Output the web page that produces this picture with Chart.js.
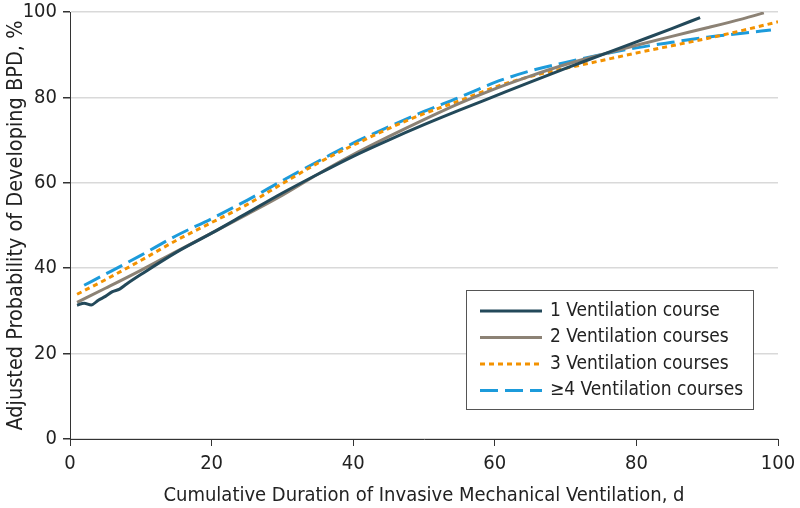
<!DOCTYPE html>
<html>
<head>
<meta charset="utf-8">
<script src="https://cdn.jsdelivr.net/npm/chart.js@4/dist/chart.umd.min.js"></script>
<style>
  html, body { margin: 0; padding: 0; background: #fff; }
  #wrap { width: 800px; height: 508px; position: relative; }
</style>
</head>
<body>
<div id="wrap"><canvas id="c" width="800" height="508"></canvas></div>
<script>
// Data
const seriesLabels = ["1 Ventilation course", "2 Ventilation courses", "3 Ventilation courses", "\u22654 Ventilation courses"];

const days1 = [1, 2, 3, 4, 5, 6, 7, 8, 10, 15, 20, 25, 30, 35, 40, 45, 50, 55, 60, 65, 70, 75, 80, 85, 89];
const prob1 = [31.3, 31.8, 31.4, 32.5, 33.4, 34.5, 35.1, 36.3, 38.5, 43.7, 48.2, 52.9, 57.6, 62.0, 66.2, 70.0, 73.6, 77.0, 80.3, 83.6, 86.8, 89.9, 93.0, 96.1, 98.7];

const days2 = [1, 5, 10, 15, 20, 25, 30, 35, 40, 45, 50, 55, 60, 65, 70, 75, 80, 85, 90, 95, 98];
const prob2 = [32.0, 35.3, 39.5, 43.9, 48.2, 52.6, 57.1, 62.0, 66.6, 70.8, 74.8, 78.6, 82.0, 85.0, 87.7, 90.0, 92.2, 94.3, 96.3, 98.4, 99.8];

const days3 = [1, 5, 10, 15, 20, 25, 30, 35, 40, 45, 50, 55, 60, 65, 70, 75, 80, 85, 90, 95, 100];
const prob3 = [33.9, 37.3, 41.8, 46.5, 50.7, 54.9, 59.8, 64.6, 68.8, 72.7, 76.2, 79.2, 82.4, 84.9, 86.8, 88.6, 90.4, 92.1, 93.8, 95.7, 97.7];

const days4 = [2, 5, 10, 15, 20, 25, 30, 35, 40, 45, 50, 55, 60, 65, 70, 75, 80, 85, 90, 95, 99];
const prob4 = [36.0, 38.6, 43.0, 47.6, 51.6, 55.9, 60.5, 65.0, 69.3, 73.1, 76.7, 80.0, 83.5, 86.2, 88.2, 90.0, 91.6, 92.9, 94.1, 95.0, 95.8];

const xTicks = [0, 20, 40, 60, 80, 100];
const yTicks = [0, 20, 40, 60, 80, 100];

const xTitle = "Cumulative Duration of Invasive Mechanical Ventilation, d";
const yTitle = "Adjusted Probability of Developing BPD, %";

const FONT = "'Liberation Sans Narrow', 'DejaVu Sans Condensed', 'Open Sans', sans-serif";
const TXT = "#222222";

function pts(xs, ys) { return xs.map((x, i) => ({ x: x, y: ys[i] })); }

const colors = ["#23495a", "#8c8275", "#f39200", "#1c9bdb"];
const dashes = [[], [], [5, 4], [18, 7]];
const dayArrays = [days1, days2, days3, days4];
const probArrays = [prob1, prob2, prob3, prob4];

const datasets = seriesLabels.map((lab, i) => ({
  label: lab,
  data: pts(dayArrays[i], probArrays[i]),
  borderColor: colors[i],
  backgroundColor: colors[i],
  borderWidth: 3,
  borderDash: dashes[i],
  pointRadius: 0,
  cubicInterpolationMode: 'monotone',
  fill: false,
  order: i + 1
}));

const legendPlugin = {
  id: 'boxLegend',
  afterDraw(chart) {
    const ctx = chart.ctx;
    const ca = chart.chartArea;
    const x0 = ca.left + 396, y0 = ca.top + 278, w = 287, h = 119;
    ctx.save();
    ctx.fillStyle = "#ffffff";
    ctx.fillRect(x0, y0, w, h);
    ctx.strokeStyle = "#555555";
    ctx.lineWidth = 1;
    ctx.strokeRect(x0 + 0.5, y0 + 0.5, w, h);
    ctx.font = "19px " + FONT;
    ctx.textBaseline = "middle";
    ctx.fillStyle = TXT;
    chart.data.datasets.forEach((ds, i) => {
      const yy = y0 + 21 + i * 26.5;
      ctx.beginPath();
      ctx.setLineDash(ds.borderDash || []);
      ctx.strokeStyle = ds.borderColor;
      ctx.lineWidth = 3;
      ctx.moveTo(x0 + 14, yy);
      ctx.lineTo(x0 + 76, yy);
      ctx.stroke();
      ctx.setLineDash([]);
      ctx.fillText(ds.label, x0 + 84, yy);
    });
    ctx.restore();
  }
};

new Chart(document.getElementById('c'), {
  type: 'line',
  data: { datasets: datasets },
  plugins: [legendPlugin],
  options: {
    responsive: false,
    animation: false,
    layout: { padding: { top: 12, right: 22, left: 0, bottom: 0 } },
    plugins: { legend: { display: false }, tooltip: { enabled: false } },
    scales: {
      x: {
        type: 'linear',
        min: 0, max: 100,
        afterBuildTicks(scale) { scale.ticks = xTicks.map(v => ({ value: v })); },
        afterFit(scale) { scale.height = 69; scale.paddingLeft = 0; scale.paddingRight = 0; },
        grid: { display: true, drawOnChartArea: false, drawTicks: true, tickLength: 7, tickColor: "#333333" },
        border: { display: true, color: "#333333", width: 1 },
        ticks: { color: TXT, font: { family: FONT, size: 20 }, padding: 6, maxRotation: 0 },
        title: { display: true, text: xTitle, color: TXT, font: { family: FONT, size: 20 }, padding: { top: 4, bottom: 0 } }
      },
      y: {
        type: 'linear',
        min: 0, max: 100,
        afterBuildTicks(scale) { scale.ticks = yTicks.map(v => ({ value: v })); },
        afterFit(scale) { scale.width = 70; scale.paddingTop = 0; scale.paddingBottom = 0; },
        grid: { display: true, color: "#d9d9d9", lineWidth: 1.5, drawTicks: true, tickLength: 7, tickColor: "#333333" },
        border: { display: true, color: "#333333", width: 1 },
        ticks: { color: TXT, font: { family: FONT, size: 20 }, padding: 6 },
        title: { display: true, text: yTitle, color: TXT, font: { family: FONT, size: 21.5 }, padding: { top: 4, bottom: 2 } }
      }
    }
  }
});
</script>
</body>
</html>
